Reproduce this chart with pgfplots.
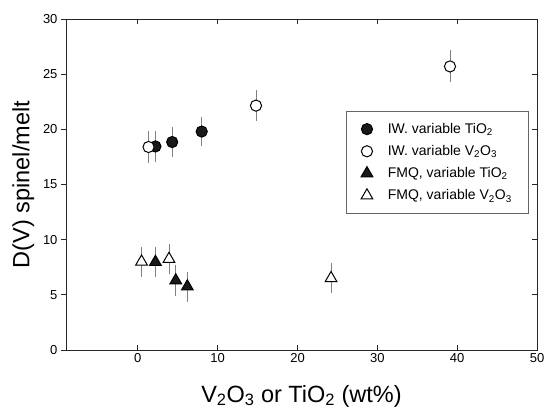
\documentclass[border=0pt]{standalone}
\usepackage{fontspec}
\setmainfont{Liberation Sans}
\usepackage{pgfplots}
\pgfplotsset{compat=1.18}

\newcommand{\sub}[1]{\textsubscript{#1}}
\newcommand{\tickfont}{\fontsize{13}{15.6}\selectfont}

\begin{document}
\begin{tikzpicture}
\pgfplotsset{
  common/.style={
    scale only axis,
    width=471pt, height=331pt,
    xmin=-9, xmax=50, ymin=0, ymax=30,
    xtick={0,10,...,50},
    ytick={0,5,...,30},
    xticklabel={\tickfont\pgfmathprintnumber{\tick}},
    yticklabel={\tickfont\pgfmathprintnumber{\tick}},
    major tick length=5pt,
    axis line style={black!85, line width=0.9pt},
    tick style={black!85, line width=0.8pt},
    /pgf/number format/assume math mode=true,
  },
  errbars/.style={
    error bars/.cd, y dir=both, y explicit,
    error mark=none,
    error bar style={black!50, line width=0.8pt},
  },
}
% left axis: outward ticks with labels
\begin{axis}[
  common,
  hide x axis,
  axis y line*=left,
  tick align=outside,
  ylabel={D(V) spinel/melt},
  ylabel style={at={(axis description cs:0,0.5)}, anchor=base,
                yshift=36.5pt, font=\fontsize{23.5}{28}\selectfont},
]
\end{axis}
% main axis: data, inward ticks on bottom, top and right
\begin{axis}[
  common,
  tick align=inside,
  xtick pos=both,
  ytick pos=right,
  yticklabels={},
  xlabel={V\sub{2}O\sub{3} or TiO\sub{2} (wt\%)},
  xlabel style={at={(axis description cs:0.5,0)}, anchor=base,
                yshift=-52pt, font=\fontsize{23.5}{28}\selectfont},
  legend style={
    at={(rel axis cs:0.594,0.722)}, anchor=north west,
    draw=black!60, line width=0.6pt,
    font=\fontsize{14}{16.8}\selectfont,
    inner xsep=15pt, inner ysep=10pt,
    row sep=6.5pt,
    cells={anchor=west},
    /tikz/every odd column/.append style={column sep=13pt},
  },
]
% IW, variable TiO2
\addplot[only marks, mark=*, mark size=5.6pt,
  mark options={draw=black, fill=black!90, line width=1pt}, errbars]
  table[x=x, y=y, y error=e] {
x    y      e
2.2  18.45  1.43
4.3  18.85  1.36
8.0  19.8   1.33
};
\addlegendentry{IW. variable TiO\sub{2}}
% IW, variable V2O3
\addplot[only marks, mark=*, mark size=5.6pt,
  mark options={draw=black, fill=white, line width=1pt}, errbars]
  table[x=x, y=y, y error=e] {
x     y      e
1.34  18.4   1.43
14.8  22.15  1.4
39.1  25.7   1.45
};
\addlegendentry{IW. variable V\sub{2}O\sub{3}}
% FMQ, variable TiO2
\addplot[only marks, mark=triangle*, mark size=6.8pt,
  mark options={draw=black, fill=black!90, line width=1pt}, errbars]
  table[x=x, y=y, y error=e] {
x     y      e
2.2   7.97   1.39
4.75  6.3    1.4
6.2   5.75   1.36
};
\addlegendentry{FMQ, variable TiO\sub{2}}
% FMQ, variable V2O3
\addplot[only marks, mark=triangle*, mark size=6.8pt,
  mark options={draw=black, fill=white, line width=1pt}, errbars]
  table[x=x, y=y, y error=e] {
x     y      e
0.46  8.0    1.36
3.9   8.24   1.35
24.2  6.5    1.36
};
\addlegendentry{FMQ, variable V\sub{2}O\sub{3}}
\end{axis}
\pgfresetboundingbox
\path ([shift={(-66pt,-60pt)}]current axis.south west)
  rectangle ([shift={(9pt,19pt)}]current axis.north east);
\end{tikzpicture}
\end{document}
